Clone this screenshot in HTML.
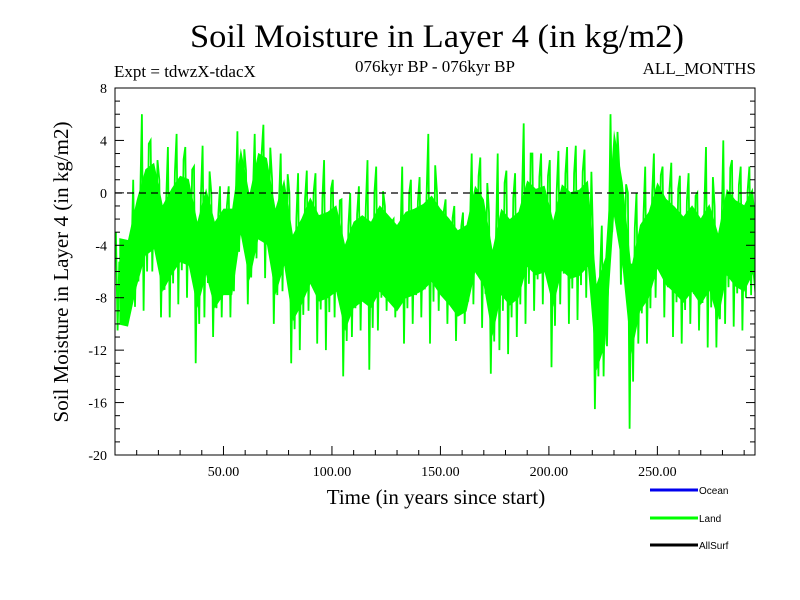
<!DOCTYPE html>
<html><head><meta charset="utf-8"><style>
body{margin:0;background:#fff;}
svg{display:block;font-family:"Liberation Serif",serif;}
</style></head><body>
<svg id="c" width="800" height="600" viewBox="0 0 800 600">
<text x="437" y="47" font-size="33" text-anchor="middle" textLength="494" lengthAdjust="spacingAndGlyphs">Soil Moisture in Layer 4 (in kg/m2)</text>
<text x="114" y="77" font-size="17">Expt = tdwzX-tdacX</text>
<text x="435" y="72" font-size="17" text-anchor="middle">076kyr BP - 076kyr BP</text>
<text x="756" y="74" font-size="17" text-anchor="end">ALL_MONTHS</text>
<text transform="translate(68,272) rotate(-90)" font-size="21" text-anchor="middle">Soil Moisture in Layer 4 (in kg/m2)</text>
<text x="436" y="504" font-size="21" text-anchor="middle">Time (in years since start)</text>
<g id="series"></g>
<line x1="115" y1="193" x2="755" y2="193" stroke="#000" stroke-width="1.3" stroke-dasharray="7,5"/>
<g id="axes"></g>
<g font-family="Liberation Sans, sans-serif" font-size="10">
<line x1="650" y1="490" x2="698" y2="490" stroke="#0000ee" stroke-width="3"/>
<text x="699" y="494">Ocean</text>
<line x1="650" y1="518" x2="698" y2="518" stroke="#00ff00" stroke-width="3"/>
<text x="699" y="522">Land</text>
<line x1="650" y1="545" x2="698" y2="545" stroke="#000" stroke-width="3"/>
<text x="699" y="549">AllSurf</text>
</g>
</svg>
<script>
const binYears = 4;
const landHigh = [-3,-4,1,6,4,1,3.5,4.5,3.5,2,3.6,0,0.5,0.5,4.7,1.7,4.5,5.2,1,3,0,1.5,1.7,1.5,2.5,1,-0.5,0,0.5,2.5,2,-1,-2,2,1,1.2,4.5,0,
-0.5,-1,-1.5,3,2.7,-1.5,3,1.7,1.5,5.3,3,3,2.5,3.2,3.5,3.6,3.3,-4,-2.5,6,2,0,0,2,3,2,2.3,1.3,1.5,0,3.5,-1,4,2.5,2,2,1];
const landLow = [-10.5,-9.8,-8.7,-9,-6,-9.5,-9.5,-8.5,-8,-13,-9.5,-11,-9.5,-9.5,-4.5,-8.5,-5,-6.5,-10,-7.5,-13,-12,-9,-11.5,-12,-9.5,-14,-11,-10.5,-13.5,-10.5,-9,-9.5,-11.5,-10,-9.5,-11.5,-9,
-10,-11.3,-10,-8.5,-10.3,-13.8,-12,-12.3,-11,-10,-9,-8.5,-13.3,-8.5,-10,-9.7,-8,-16.5,-14,-3,-7,-18,-11.5,-11.5,-8,-9.5,-11,-11.5,-10,-10.5,-11.8,-11.8,-10,-10.2,-10.5,-7.8,-10.5];
const yTicks = [8,4,0,-4,-8,-12,-16,-20];
const xTicks = [50,100,150,200,250];
const X0=115, X1=755, XMAX=295, Y0=88, Y1=455, YMAX=8, YMIN=-20;
const sx = v => X0 + (v/XMAX)*(X1-X0);
const sy = v => Y0 + (YMAX-v)/(YMAX-YMIN)*(Y1-Y0);
const NS='http://www.w3.org/2000/svg';
const ser=document.getElementById('series');
let pts=[];
for(let i=0;i<landHigh.length;i++){
  const a=i*binYears;
  for(const [f,v] of [[0.1,landHigh[i]],[0.3,landLow[i]],[0.5,landHigh[i]*0.7+landLow[i]*0.3],[0.7,landLow[i]*0.8+landHigh[i]*0.2],[0.9,landHigh[i]*0.85+landLow[i]*0.15]]){
    const yr=a+f*binYears; if(yr>XMAX) continue;
    pts.push(sx(yr).toFixed(1)+','+sy(v).toFixed(1));
  }
}
const band=document.createElementNS(NS,'polygon');
let up=[],dn=[];
for(let i=0;i<landHigh.length;i++){const yr=Math.min(i*binYears+2,XMAX);const m=landHigh[i]*0.5+landLow[i]*0.5;up.push(sx(yr).toFixed(1)+','+sy(m+3.3).toFixed(1));dn.unshift(sx(yr).toFixed(1)+','+sy(m-3.3).toFixed(1));}
band.setAttribute('points',up.concat(dn).join(' '));
band.setAttribute('fill','#00ff00');


ser.appendChild(band);
const pl=document.createElementNS(NS,'polyline');
pl.setAttribute('points',pts.join(' '));
pl.setAttribute('fill','none');pl.setAttribute('stroke','#00ff00');pl.setAttribute('stroke-width','1.8');


ser.appendChild(pl);
const ax=document.getElementById('axes');
function ln(x1,y1,x2,y2,n){const l=document.createElementNS(NS,'line');l.setAttribute('x1',x1);l.setAttribute('y1',y1);l.setAttribute('x2',x2);l.setAttribute('y2',y2);l.setAttribute('stroke','#000');l.setAttribute('stroke-width','1');


ax.appendChild(l);}
const fr=document.createElementNS(NS,'rect');
fr.setAttribute('x',X0);fr.setAttribute('y',Y0);fr.setAttribute('width',X1-X0);fr.setAttribute('height',Y1-Y0);fr.setAttribute('fill','none');fr.setAttribute('stroke','#000');


ax.appendChild(fr);
for(let v=YMIN;v<=YMAX;v++){const major=v%4===0;const L=major?9:5;ln(X0,sy(v),X0+L,sy(v),'y-tick');ln(X1-L,sy(v),X1,sy(v),'y-tick-right');}
for(let v=10;v<XMAX;v+=10){const L=v%50===0?9:5;ln(sx(v),Y1,sx(v),Y1-L,'x-tick');}
yTicks.forEach(v=>{const t=document.createElementNS(NS,'text');t.setAttribute('x',X0-8);t.setAttribute('y',sy(v)+5);t.setAttribute('font-size','14');t.setAttribute('text-anchor','end');t.textContent=v;


ax.appendChild(t);});
xTicks.forEach(v=>{const t=document.createElementNS(NS,'text');t.setAttribute('x',sx(v));t.setAttribute('y',Y1+21);t.setAttribute('font-size','14');t.setAttribute('text-anchor','middle');t.textContent=v.toFixed(2);


ax.appendChild(t);});
</script>
</body></html>
